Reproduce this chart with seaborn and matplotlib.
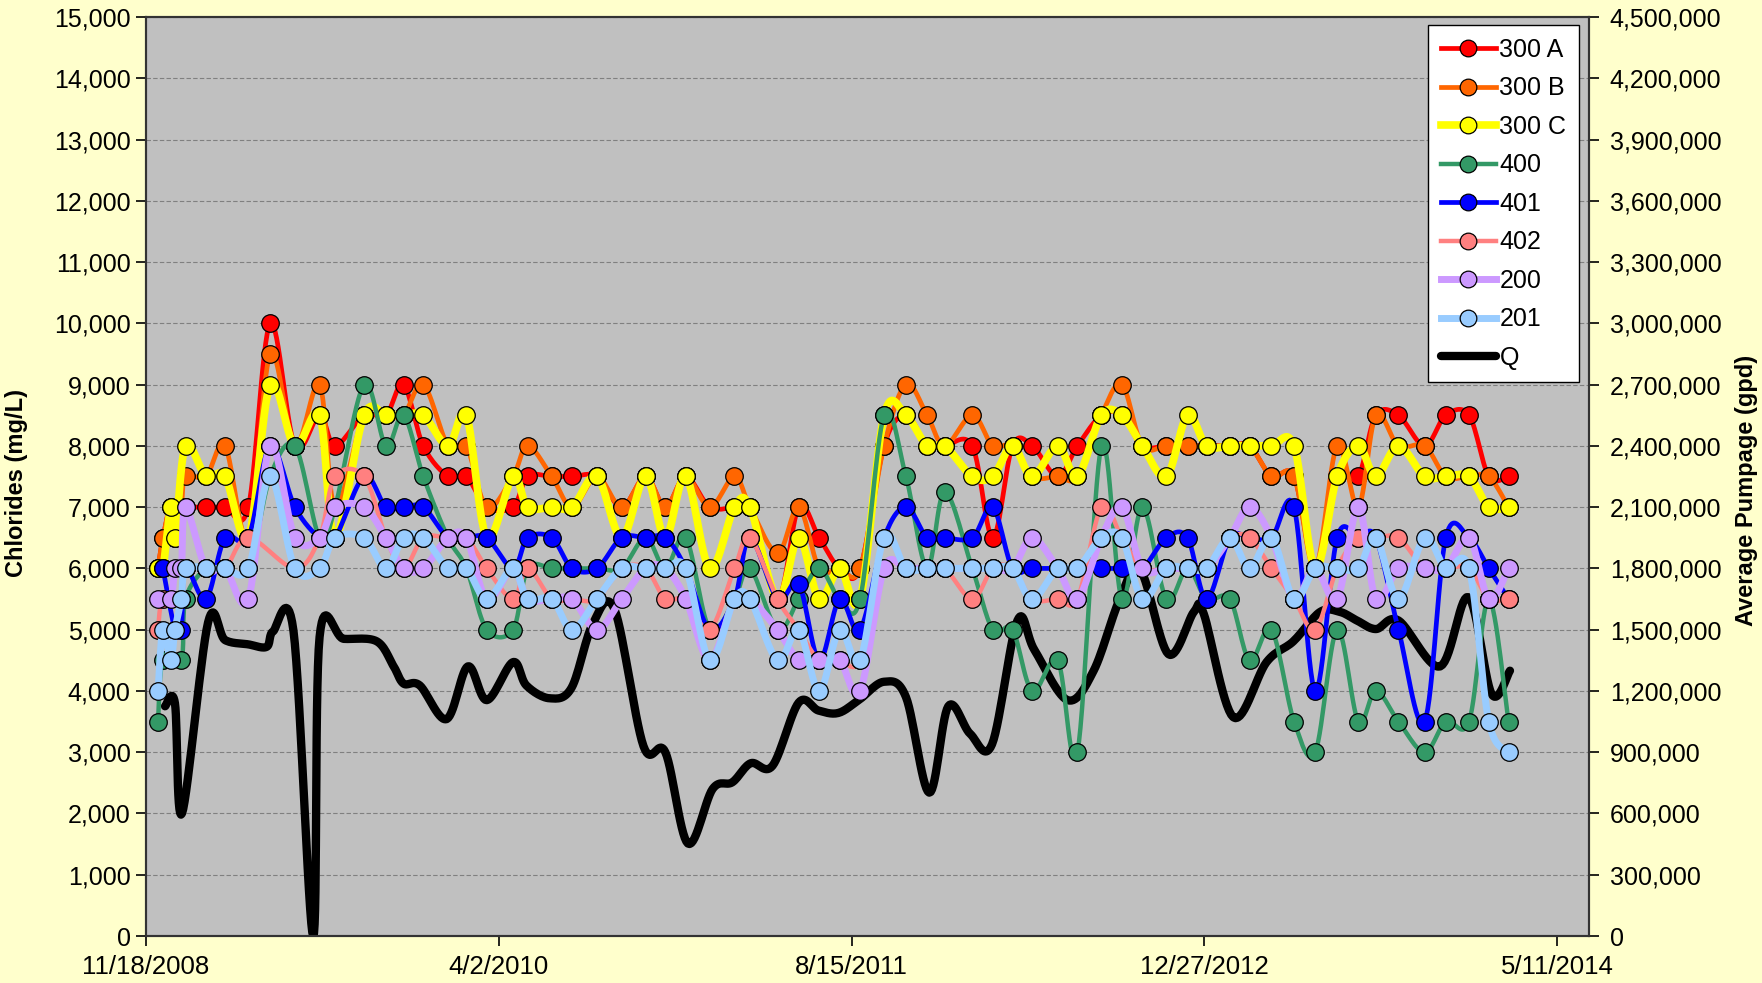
import numpy as np
import pandas as pd
import seaborn as sns
import matplotlib
matplotlib.use("Agg")
import matplotlib.pyplot as plt
from matplotlib.lines import Line2D
from matplotlib.ticker import FuncFormatter, MultipleLocator

plt.rcParams['font.family'] = ['Liberation Sans', 'DejaVu Sans']

nan = np.nan
start = pd.Timestamp("2008-11-18")

# sampling days, counted from 11/18/2008
sample_day = [17, 24, 35, 41, 50, 56, 85, 112, 145, 176,
              211, 246, 268, 309, 340, 365, 393, 428, 454, 483,
              520, 541, 575, 604, 639, 674, 708, 736, 765, 799,
              834, 856, 895, 925, 954, 983, 1012, 1046, 1077, 1107,
              1132, 1171, 1200, 1228, 1256, 1292, 1320, 1354, 1383, 1412,
              1446, 1476, 1503, 1536, 1564, 1595, 1627, 1657, 1688, 1718,
              1743, 1775, 1812, 1842, 1875, 1903, 1931]

# chlorides (mg/L)
cl_300a = [6000, 6500, 7000, 6500, 7000, 7000, 7000, 7000, 7000, 10000,
           8000, 8500, 8000, 8500, 8500, 9000, 8000, 7500, 7500, 7000,
           7000, 7500, 7500, 7500, 7500, 7000, 7500, 7000, 7500, 7000,
           7000, 7000, 5500, 7000, 6500, 6000, 6000, 8000, 8500, 8000,
           8000, 8000, 6500, 8000, 8000, 7500, 8000, 8500, 8500, 8000,
           8000, 8000, 8000, 8000, 8000, 7500, 7500, 6000, 7500, 7500,
           8500, 8500, 8000, 8500, 8500, 7500, 7500]
cl_300b = [6000, 6500, 7000, 6500, 7000, 7500, 7500, 8000, 6500, 9500,
           8000, 9000, 7000, 8500, 8500, 8500, 9000, 8000, 8000, 7000,
           7500, 8000, 7500, 7000, 7500, 7000, 7500, 7000, 7500, 7000,
           7500, 7000, 6250, 7000, 6000, 6000, 6000, 8000, 9000, 8500,
           8000, 8500, 8000, 8000, 7500, 7500, 7500, 8500, 9000, 8000,
           8000, 8000, 8000, 8000, 8000, 7500, 7500, 6000, 8000, 7000,
           8500, 8000, 8000, 7500, 7500, 7500, 7000]
cl_300c = [6000, 6000, 7000, 6500, nan, 8000, 7500, 7500, 6500, 9000,
           8000, 8500, 6500, 8500, 8500, 8500, 8500, 8000, 8500, 6500,
           7500, 7000, 7000, 7000, 7500, 6500, 7500, 6500, 7500, 6000,
           7000, 7000, 5500, 6500, 5500, 6000, 5500, 8500, 8500, 8000,
           8000, 7500, 7500, 8000, 7500, 8000, 7500, 8500, 8500, 8000,
           7500, 8500, 8000, 8000, 8000, 8000, 8000, 6000, 7500, 8000,
           7500, 8000, 7500, 7500, 7500, 7000, 7000]
cl_400 = [3500, 4500, nan, nan, 4500, 5500, 6000, 6000, 6000, 7500,
          8000, 6500, 7000, 9000, 8000, 8500, 7500, 6500, 6000, 5000,
          5000, 6000, 6000, 6000, 6000, 6000, 6500, 6000, 6500, 5000,
          5500, 6000, 5000, 5500, 6000, 5500, 5500, 8500, 7500, 6000,
          7250, 6000, 5000, 5000, 4000, 4500, 3000, 8000, 5500, 7000,
          5500, 6000, 5500, 5500, 4500, 5000, 3500, 3000, 5000, 3500,
          4000, 3500, 3000, 3500, 3500, 5500, 3500]
cl_401 = [nan, 6000, nan, 5000, 5000, 6000, 5500, 6500, 6500, 8000,
          7000, 6500, 6500, 7500, 7000, 7000, 7000, 6500, 6500, 6500,
          6000, 6500, 6500, 6000, 6000, 6500, 6500, 6500, 6000, 5000,
          5500, 6500, 5500, 5750, 4500, 5500, 5000, 6500, 7000, 6500,
          6500, 6500, 7000, 6000, 6000, 6000, 6000, 6000, 6000, 6000,
          6500, 6500, 5500, 6500, 6500, 6500, 7000, 4000, 6500, 6500,
          6500, 5000, 3500, 6500, 6500, 6000, 5500]
cl_402 = [5000, 5500, nan, nan, 5500, 6000, 6000, 6000, 6500, nan,
          6000, 6500, 7500, 7500, 6500, 6000, 6500, 6500, 6500, 6000,
          5500, 6000, 5500, 5500, 5500, 6000, 6000, 5500, 5500, 5000,
          6000, 6500, 5500, 5000, 4500, 4500, 4500, 6000, 6000, 6000,
          6000, 5500, 6000, 6000, 5500, 5500, 5500, 7000, 6500, 6000,
          6000, 6000, 6000, 6500, 6500, 6000, 5500, 5000, 6000, 6500,
          6500, 6500, 6000, 6000, 6000, 5500, 5500]
cl_200 = [5500, nan, 5500, 6000, 6000, 7000, 6000, 6000, 5500, 8000,
          6500, 6500, 7000, 7000, 6500, 6000, 6000, 6500, 6500, 5500,
          6000, 5500, 5500, 5500, 5000, 5500, 6000, 6000, 5500, 4500,
          5500, 5500, 5000, 4500, 4500, 4500, 4000, 6000, 6000, 6000,
          6000, 6000, 6000, 6000, 6500, 6000, 5500, 6500, 7000, 6000,
          6000, 6000, 6000, 6500, 7000, 6500, 5500, 6000, 5500, 7000,
          5500, 6000, 6000, 6000, 6500, 5500, 6000]
cl_201 = [4000, 5000, 4500, 5000, 5500, 6000, 6000, 6000, 6000, 7500,
          6000, 6000, 6500, 6500, 6000, 6500, 6500, 6000, 6000, 5500,
          6000, 5500, 5500, 5000, 5500, 6000, 6000, 6000, 6000, 4500,
          5500, 5500, 4500, 5000, 4000, 5000, 4500, 6500, 6000, 6000,
          6000, 6000, 6000, 6000, 5500, 6000, 6000, 6500, 6500, 5500,
          6000, 6000, 6000, 6500, 6000, 6500, 5500, 6000, 6000, 6000,
          6500, 5500, 6500, 6000, 6000, 3500, 3000]

# average pumpage Q (gpd)
q_day = [27, 41, 51, 88, 112, 145, 171, 180, 209, 237,
         246, 280, 327, 351, 365, 388, 426, 456, 483, 520,
         539, 572, 603, 633, 664, 705, 736, 768, 803, 831,
         857, 888, 925, 953, 981, 1010, 1046, 1077, 1110, 1137,
         1168, 1199, 1235, 1259, 1306, 1343, 1380, 1409, 1449, 1485,
         1499, 1541, 1588, 1626, 1664, 1692, 1716, 1743, 1775, 1834,
         1874, 1907, 1933]
q_gpd = [1125000, 1140000, 600000, 1536000, 1449000, 1428000, 1416000, 1491000, 1494000, 0,
         1464000, 1455000, 1443000, 1320000, 1236000, 1227000, 1062000, 1320000, 1155000, 1341000,
         1227000, 1164000, 1215000, 1527000, 1599000, 930000, 900000, 453000, 720000, 753000,
         846000, 834000, 1143000, 1104000, 1092000, 1155000, 1245000, 1170000, 702000, 1125000,
         990000, 939000, 1545000, 1401000, 1155000, 1299000, 1650000, 1794000, 1380000, 1587000,
         1578000, 1071000, 1341000, 1443000, 1587000, 1587000, 1545000, 1503000, 1545000, 1320000,
         1659000, 1185000, 1299000]

series = [("300 A", cl_300a, "#FF0000", 3.4),
          ("300 B", cl_300b, "#FF6600", 3.4),
          ("300 C", cl_300c, "#FFFF00", 5.5),
          ("400", cl_400, "#339966", 3.2),
          ("401", cl_401, "#0000FF", 3.4),
          ("402", cl_402, "#FF8080", 3.2),
          ("200", cl_200, "#CC99FF", 5.0),
          ("201", cl_201, "#99CCFF", 5.0)]


def smooth(x, y, n=16):
    # excel style smoothed line (bezier through the points)
    p = np.column_stack([x, y]).astype(float)
    t = np.linspace(0, 1, n)[:, None]
    out = [p[:1]]
    for i in range(len(p) - 1):
        p0 = p[i - 1] if i > 0 else p[i]
        p3 = p[i + 2] if i + 2 < len(p) else p[i + 1]
        c1 = p[i] + (p[i + 1] - p0) / 6
        c2 = p[i + 1] - (p3 - p[i]) / 6
        seg = ((1 - t) ** 3 * p[i] + 3 * (1 - t) ** 2 * t * c1
               + 3 * (1 - t) * t ** 2 * c2 + t ** 3 * p[i + 1])
        out.append(seg[1:])
    s = np.vstack(out)
    return s[:, 0], s[:, 1]


fig = plt.figure(figsize=(17.62, 9.83), dpi=100, facecolor="#FFFFCC")
ax = fig.add_axes([146 / 1762, 47 / 983, 1443 / 1762, 919 / 983])
ax2 = ax.twinx()
ax.set_zorder(2)
ax2.set_zorder(1)
ax.patch.set_visible(False)
ax2.patch.set_visible(True)
ax2.patch.set_facecolor("#C0C0C0")

ax2.set_ylim(0, 4500000)
ax2.yaxis.set_major_locator(MultipleLocator(300000))
ax2.yaxis.grid(True, color="#808080", ls=(0, (4, 2)), lw=0.8)
ax2.set_axisbelow(True)

qx, qy = smooth(q_day, q_gpd)
sns.lineplot(x=qx, y=qy, ax=ax2, color="black", lw=6, sort=False, estimator=None,
             solid_joinstyle="round", solid_capstyle="round")

days = np.array(sample_day)
handles = []
for i, (name, vals, col, lw) in enumerate(series):
    v = np.array(vals, dtype=float)
    m = ~np.isnan(v)
    xs, ys = smooth(days[m], v[m])
    sns.lineplot(x=xs, y=ys, ax=ax, color=col, lw=lw, sort=False, estimator=None,
                 solid_joinstyle="round", zorder=2 + 2 * i)
    sns.scatterplot(x=days[m], y=v[m], ax=ax, color=col, s=160, edgecolor="black",
                    linewidth=0.9, zorder=3 + 2 * i)
    handles.append(Line2D([], [], color=col, lw=lw, marker="o", ms=12, mfc=col,
                          mec="black", mew=0.9, label=name))
handles.append(Line2D([], [], color="black", lw=6, solid_capstyle="round", label="Q"))

ax.set_xlim(0, 2045)
ax.set_ylim(0, 15000)
ax.yaxis.set_major_locator(MultipleLocator(1000))
ax.set_xticks(range(0, 2001, 500))
ax.xaxis.set_major_formatter(FuncFormatter(
    lambda v, p: (start + pd.Timedelta(days=v)).strftime("%-m/%-d/%Y")))
ax.yaxis.set_major_formatter(FuncFormatter(lambda v, p: f"{v:,.0f}"))
ax2.yaxis.set_major_formatter(FuncFormatter(lambda v, p: f"{v:,.0f}"))

ax.tick_params(axis="y", length=7, width=1.2, pad=4, labelsize=18)
ax.tick_params(axis="x", length=7, width=1.2, pad=7, labelsize=18.5)
ax2.tick_params(axis="y", length=7, width=1.2, pad=8, labelsize=18)
ax.set_xlabel("")
ax.set_ylabel("")
ax2.set_ylabel("")

for a in (ax, ax2):
    for sp in a.spines.values():
        sp.set_color("#333333")
        sp.set_linewidth(1.5)

fig.text(17 / 1762, 0.509, "Chlorides (mg/L)", rotation=90, ha="center", va="center",
         fontsize=17, fontweight="bold")
fig.text(1746 / 1762, 0.501, "Average Pumpage (gpd)", rotation=90, ha="center", va="center",
         fontsize=17, fontweight="bold")

leg = ax.legend(handles=handles, loc="upper right", bbox_to_anchor=(0.993, 0.991),
                borderaxespad=0, fontsize=18, frameon=True, fancybox=False,
                edgecolor="black", framealpha=1, handlelength=2.2, handletextpad=0.15,
                labelspacing=0.58, borderpad=0.5)
leg.get_frame().set_linewidth(1.0)

fig.savefig("out.png", dpi=100, facecolor=fig.get_facecolor())
